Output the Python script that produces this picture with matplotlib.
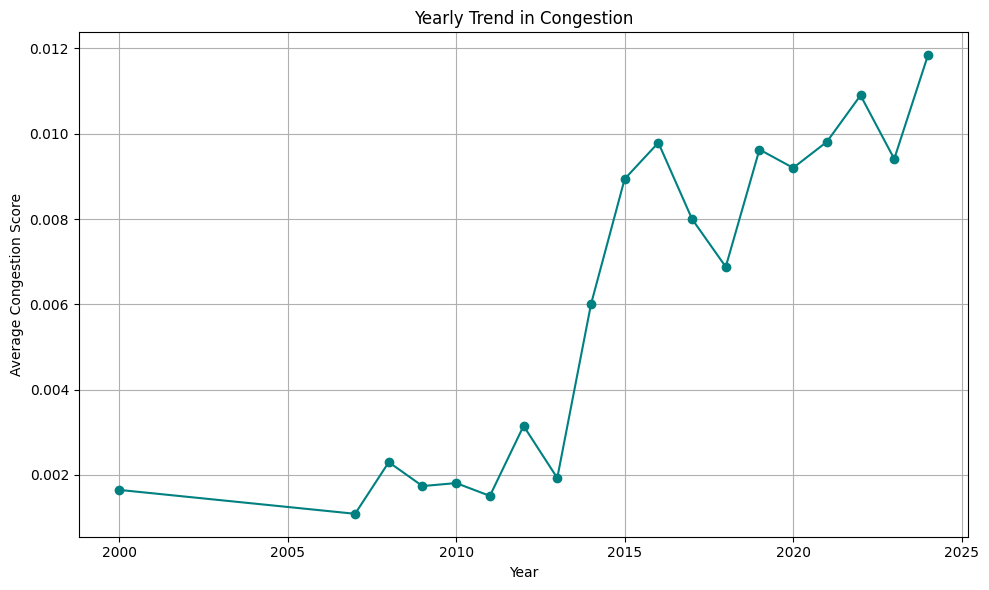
import matplotlib
matplotlib.use("Agg")
import matplotlib.pyplot as plt

# yearly averages
years = [2000, 2007, 2008, 2009, 2010, 2011, 2012, 2013, 2014, 2015, 2016,
         2017, 2018, 2019, 2020, 2021, 2022, 2023, 2024]
scores = [0.00165, 0.00109, 0.00230, 0.00174, 0.00181, 0.00151, 0.00315,
          0.00193, 0.00600, 0.00894, 0.00979, 0.00800, 0.00688, 0.00963,
          0.00920, 0.00981, 0.01090, 0.00941, 0.01184]

fig = plt.figure(figsize=(10, 6), dpi=100)
plt.plot(years, scores, marker='o', color='teal')
plt.title('Yearly Trend in Congestion')
plt.xlabel('Year')
plt.ylabel('Average Congestion Score')
plt.grid(True)
plt.tight_layout()
plt.savefig('out.png', bbox_inches='tight')
